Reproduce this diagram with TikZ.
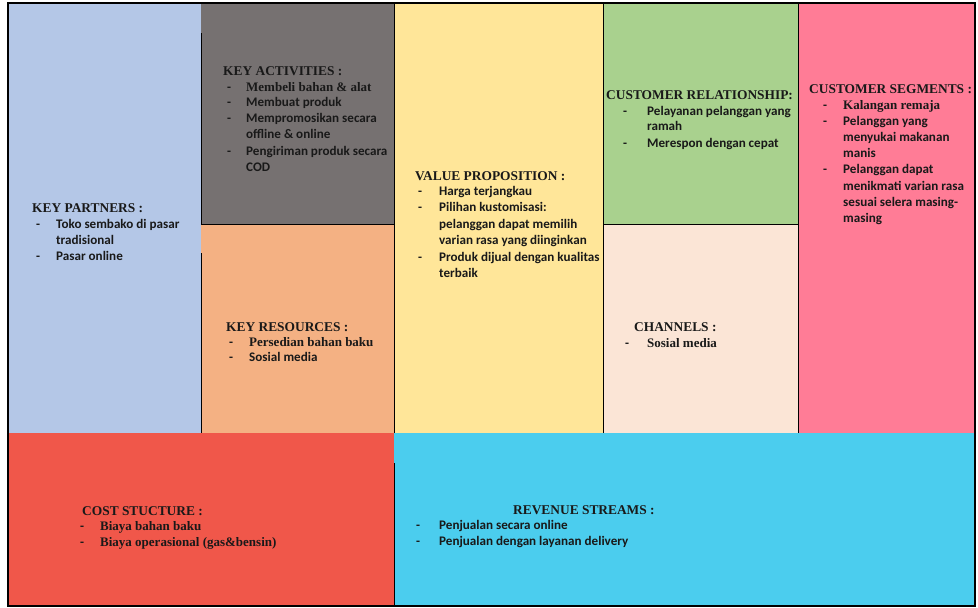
\documentclass[tikz,border=0pt]{standalone}
\usepackage{fontspec}
\setmainfont{Liberation Serif}
\newfontfamily\calfont{Carlito}
\definecolor{cpart}{HTML}{B4C7E7}
\definecolor{cact}{HTML}{767171}
\definecolor{cres}{HTML}{F4B183}
\definecolor{cval}{HTML}{FFE699}
\definecolor{crel}{HTML}{A9D18E}
\definecolor{cchan}{HTML}{FBE5D6}
\definecolor{cseg}{HTML}{FF7C96}
\definecolor{ccost}{HTML}{F0574A}
\definecolor{crev}{HTML}{4BCDEE}
\tikzset{
  ttl/.style={anchor=base west, inner sep=0pt, text=black!90, font=\bfseries\fontsize{13.4}{15}\selectfont},
  itm/.style={anchor=base west, inner sep=0pt, text=black!90, font=\calfont\bfseries\fontsize{13.1}{14}\selectfont},
  itmt/.style={anchor=base west, inner sep=0pt, text=black!90, font=\bfseries\fontsize{13}{14}\selectfont},
  dsh/.style={anchor=base west, inner sep=0pt, text=black!90, font=\calfont\bfseries\fontsize{13}{14}\selectfont},
  rule/.style={draw=black, line width=1pt},
}
\begin{document}
\begin{tikzpicture}[x=1pt,y=-1pt]
\useasboundingbox (0,0) rectangle (978,608);
\fill[white] (0,0) rectangle (978,608);
% fills
\fill[cpart] (8,3) rectangle (201,433);
\fill[cact] (201,3) rectangle (394,224);
\fill[cres] (201,224) rectangle (394,433);
\fill[cval] (394,3) rectangle (603,433);
\fill[crel] (603,3) rectangle (798,224);
\fill[cchan] (603,224) rectangle (798,433);
\fill[cseg] (798,3) rectangle (975,433);
\fill[ccost] (8,433) rectangle (394,606);
\fill[crev] (394,433) rectangle (975,606);
% rules
\draw[rule] (201,33) -- (201,224);
\draw[rule] (201,253) -- (201,433);
\draw[rule] (201,224) -- (394,224);
\draw[rule] (394,3) -- (394,433);
\draw[rule] (394,463) -- (394,606);
\draw[rule] (603,3) -- (603,433);
\draw[rule] (603,224) -- (798,224);
\draw[rule] (798,3) -- (798,433);
\draw[line width=1.5pt] (8,3) rectangle (975,606);

% KEY PARTNERS
\node[ttl] (kpt) at (32,212.5) {KEY PARTNERS :};
\node[dsh] (kpd1) at (36,228) {-};
\node[itm] (kp1) at (56,228) {Toko sembako di pasar};
\node[itm] (kp2) at (56,244) {tradisional};
\node[dsh] (kpd2) at (36,260) {-};
\node[itm] (kp3) at (56,260) {Pasar online};

% KEY ACTIVITIES
\node[ttl] (kat) at (223,75.5) {KEY ACTIVITIES :};
\node[dsh] (kad1) at (227,91) {-};
\node[itmt] (ka1) at (246,91) {Membeli bahan \& alat};
\node[dsh] (kad2) at (227,106) {-};
\node[itm] (ka2) at (246,106) {Membuat produk};
\node[dsh] (kad3) at (227,122) {-};
\node[itm] (ka3) at (246,122) {Mempromosikan secara};
\node[itm] (ka4) at (246,138) {offline \& online};
\node[dsh] (kad4) at (227,155) {-};
\node[itm] (ka5) at (246,155) {Pengiriman produk secara};
\node[itm] (ka6) at (246,171) {COD};

% KEY RESOURCES
\node[ttl] (krt) at (226,331.5) {KEY RESOURCES :};
\node[dsh] (krd1) at (229,346) {-};
\node[itmt] (kr1) at (249,346) {Persedian bahan baku};
\node[dsh] (krd2) at (229,361) {-};
\node[itm] (kr2) at (249,361) {Sosial media};

% VALUE PROPOSITION
\node[ttl] (vpt) at (415,180.5) {VALUE PROPOSITION :};
\node[dsh] (vpd1) at (418,195) {-};
\node[itm] (vp1) at (439,195) {Harga terjangkau};
\node[dsh] (vpd2) at (418,211) {-};
\node[itm] (vp2) at (439,211) {Pilihan kustomisasi:};
\node[itm] (vp3) at (439,228) {pelanggan dapat memilih};
\node[itm] (vp4) at (439,244) {varian rasa yang diinginkan};
\node[dsh] (vpd3) at (418,261) {-};
\node[itm] (vp5) at (439,261) {Produk dijual dengan kualitas};
\node[itm] (vp6) at (439,277) {terbaik};

% CUSTOMER RELATIONSHIP
\node[ttl] (crt) at (606,99.5) {CUSTOMER RELATIONSHIP:};
\node[dsh] (crd1) at (623,115) {-};
\node[itm] (cr1) at (647,115) {Pelayanan pelanggan yang};
\node[itm] (cr2) at (647,130) {ramah};
\node[dsh] (crd2) at (623,147) {-};
\node[itm] (cr3) at (647,147) {Merespon dengan cepat};

% CHANNELS
\node[ttl] (cht) at (634,331.5) {CHANNELS :};
\node[dsh] (chd1) at (625,347) {-};
\node[itmt] (ch1) at (647,347) {Sosial media};

% CUSTOMER SEGMENTS
\node[ttl] (cst) at (809,93.5) {CUSTOMER SEGMENTS :};
\node[dsh] (csd1) at (823,109) {-};
\node[itmt] (cs1) at (843,109) {Kalangan remaja};
\node[dsh] (csd2) at (823,125) {-};
\node[itm] (cs2) at (843,125) {Pelanggan yang};
\node[itm] (cs3) at (843,141) {menyukai makanan};
\node[itm] (cs4) at (843,157) {manis};
\node[dsh] (csd3) at (823,173) {-};
\node[itm] (cs5) at (843,173) {Pelanggan dapat};
\node[itm] (cs6) at (843,190) {menikmati varian rasa};
\node[itm] (cs7) at (843,206) {sesuai selera masing-};
\node[itm] (cs8) at (843,222) {masing};

% COST STRUCTURE
\node[ttl] (cot) at (82,515.5) {COST STUCTURE :};
\node[dsh] (cod1) at (80,530) {-};
\node[itmt] (co1) at (100,530) {Biaya bahan baku};
\node[dsh] (cod2) at (80,546) {-};
\node[itmt] (co2) at (100,546) {Biaya operasional (gas\&bensin)};

% REVENUE STREAMS
\node[ttl] (rst) at (513,514.5) {REVENUE STREAMS :};
\node[dsh] (rsd1) at (416,529) {-};
\node[itm] (rs1) at (439,529) {Penjualan secara online};
\node[dsh] (rsd2) at (416,545) {-};
\node[itm] (rs2) at (439,545) {Penjualan dengan layanan delivery};
\end{tikzpicture}
\end{document}
